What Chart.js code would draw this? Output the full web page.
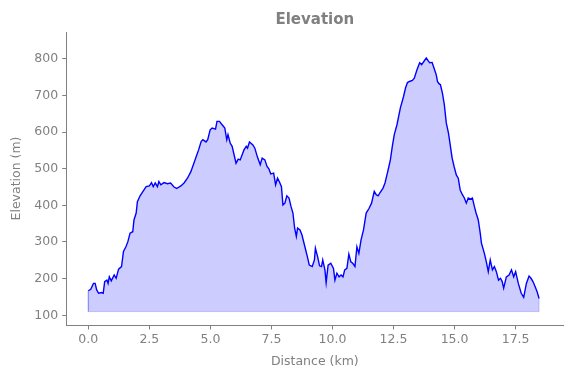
<!DOCTYPE html>
<html>
<head>
<meta charset="utf-8">
<script src="https://cdn.jsdelivr.net/npm/chart.js@4/dist/chart.umd.min.js"></script>
<style>
html,body{margin:0;padding:0;background:#fff;}
#wrap{width:571px;height:378px;}
</style>
</head>
<body>
<div id="wrap"><canvas id="c" width="571" height="378"></canvas></div>
<script>
// Distance along route (km)
const distanceKm = [
 0.00,0.10,0.21,0.28,0.34,0.42,0.54,0.61,0.67,0.76,0.81,0.86,0.94,1.06,1.14,1.24,1.36,1.44,1.54,1.62,
 1.71,1.82,1.87,1.96,2.01,2.12,2.26,2.37,2.50,2.59,2.66,2.74,2.83,2.89,2.97,3.10,3.24,3.37,3.51,3.62,
 3.79,3.92,4.06,4.20,4.42,4.52,4.62,4.69,4.82,4.89,4.99,5.07,5.21,5.27,5.37,5.48,5.59,5.67,5.72,5.81,
 5.89,5.97,6.05,6.14,6.22,6.30,6.38,6.47,6.52,6.60,6.74,6.82,6.92,7.04,7.12,7.23,7.32,7.40,7.47,7.59,
 7.67,7.75,7.82,7.91,7.97,8.05,8.13,8.22,8.30,8.38,8.45,8.52,8.57,8.67,8.75,8.87,8.97,9.05,9.17,9.26,
 9.30,9.39,9.47,9.55,9.60,9.69,9.74,9.82,9.93,10.04,10.10,10.18,10.27,10.35,10.43,10.50,10.59,10.67,10.75,10.83,
 10.92,11.00,11.08,11.17,11.27,11.38,11.50,11.60,11.71,11.79,11.87,11.95,12.07,12.15,12.23,12.31,12.37,12.45,12.53,12.64,
 12.78,12.91,12.99,13.07,13.15,13.27,13.35,13.46,13.57,13.65,13.84,13.98,14.08,14.18,14.25,14.30,14.36,14.42,14.50,14.58,
 14.66,14.75,14.83,14.90,14.98,15.07,15.15,15.23,15.32,15.40,15.48,15.56,15.65,15.73,15.81,15.88,15.97,16.05,16.10,16.22,
 16.30,16.38,16.46,16.55,16.63,16.71,16.80,16.88,16.95,17.01,17.12,17.23,17.33,17.42,17.50,17.61,17.73,17.83,17.94,18.05,
 18.13,18.21,18.30,18.38,18.46
];
// Elevation (m)
const elevationM = [
 167,171,187,187,170,160,162,160,192,196,187,205,194,210,201,226,233,274,287,301,
 324,328,360,379,410,426,440,451,453,462,451,461,451,465,456,462,459,461,450,446,
 453,461,474,492,533,552,574,579,573,579,606,611,608,629,629,620,611,579,593,570,
 561,538,515,526,524,538,552,561,556,573,565,556,533,511,529,524,506,499,486,488,
 456,474,465,451,401,406,426,420,397,379,338,315,338,333,319,287,260,237,233,251,
 283,260,235,233,251,224,189,237,242,228,196,215,205,210,205,224,228,267,246,242,
 233,287,269,306,333,379,392,406,438,429,426,435,447,461,483,506,524,561,593,620,
 666,697,720,735,738,741,747,770,789,784,802,789,790,770,756,738,732,729,707,675,
 625,597,561,529,506,483,474,442,429,420,406,420,417,420,397,379,360,324,297,269,
 246,219,251,224,233,219,196,201,192,174,205,210,224,205,219,187,160,149,187,207,
 201,192,178,164,146,164,174,160,174,162
];
// Axis ticks
const xTicks = [0, 2.5, 5, 7.5, 10, 12.5, 15, 17.5];
const yTicks = [100, 200, 300, 400, 500, 600, 700, 800];
const fillBase = 110;

const profile = distanceKm.map((d, i) => ({x: d, y: elevationM[i]}));
const last = distanceKm.length - 1;
const edge = [
  {x: distanceKm[0], y: elevationM[0]},
  {x: distanceKm[0], y: fillBase},
  {x: distanceKm[last], y: fillBase},
  {x: distanceKm[last], y: elevationM[last]}
];

const gray = '#808080';
const font = {family: 'DejaVu Sans', size: 12.5};

new Chart(document.getElementById('c'), {
  type: 'line',
  data: {
    datasets: [
      {
        data: profile,
        borderColor: '#0000ff',
        borderWidth: 1.4,
        backgroundColor: 'rgba(0,0,255,0.2)',
        fill: {value: fillBase},
        pointRadius: 0,
        tension: 0
      },
      {
        data: edge,
        borderColor: 'rgba(0,0,255,0.2)',
        borderWidth: 1,
        fill: false,
        pointRadius: 0,
        tension: 0
      }
    ]
  },
  options: {
    responsive: false,
    animation: false,
    devicePixelRatio: 1,
    layout: {padding: {left: 0, right: 8, top: 0, bottom: 0}},
    plugins: {
      legend: {display: false},
      tooltip: {enabled: false},
      title: {
        display: true,
        fullSize: false,
        text: 'Elevation',
        color: gray,
        font: {family: 'DejaVu Sans', size: 15, weight: 'bold'},
        padding: {top: 11, bottom: 3}
      }
    },
    scales: {
      x: {
        type: 'linear',
        min: -0.885,
        max: 19.44,
        afterBuildTicks: s => { s.ticks = xTicks.map(v => ({value: v})); },
        afterFit: s => { s.height = 53; },
        ticks: {
          color: gray, font: font, padding: 3,
          maxRotation: 0, autoSkip: false,
          callback: v => Number(v).toFixed(1)
        },
        grid: {display: true, drawOnChartArea: false, drawTicks: true, tickLength: 4.5, color: gray, tickWidth: 1},
        border: {display: true, color: gray, width: 1},
        title: {display: true, text: 'Distance (km)', color: gray, font: font, padding: {top: 2, bottom: 9}}
      },
      y: {
        type: 'linear',
        min: 73.5,
        max: 873,
        afterBuildTicks: s => { s.ticks = yTicks.map(v => ({value: v})); },
        afterFit: s => { s.width = 66.7; },
        ticks: {color: gray, font: font, padding: 4, autoSkip: false},
        grid: {display: true, drawOnChartArea: false, drawTicks: true, tickLength: 4.5, color: gray, tickWidth: 1},
        border: {display: true, color: gray, width: 1},
        title: {display: true, text: 'Elevation (m)', color: gray, font: font, padding: {top: 9, bottom: 0}}
      }
    }
  }
});
</script>
</body>
</html>
